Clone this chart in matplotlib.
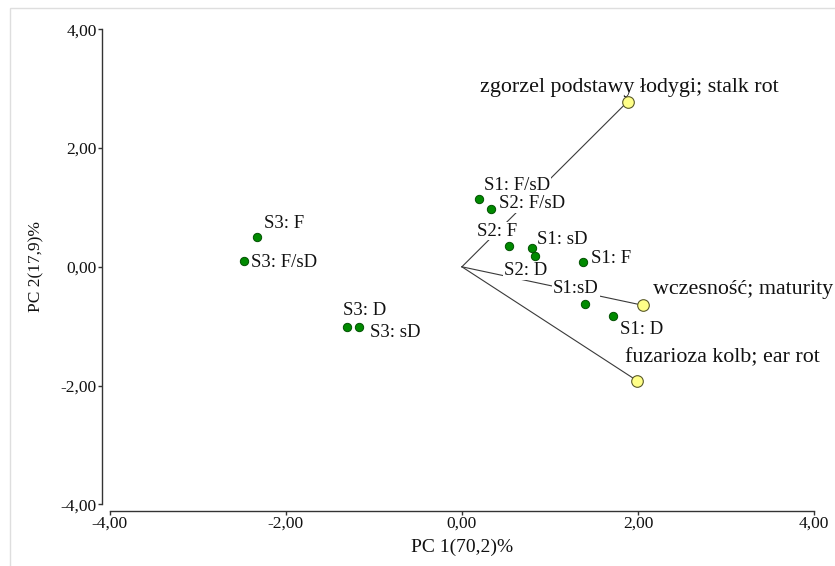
import matplotlib
matplotlib.use("Agg")
import matplotlib.pyplot as plt
from matplotlib.patches import Rectangle
from matplotlib.ticker import FuncFormatter

# ---- data ----
obj_labels = ["S1: F/sD", "S2: F/sD", "S2: F", "S1: sD", "S2: D", "S1: F",
              "S1:sD", "S1: D", "S3: F", "S3: F/sD", "S3: D", "S3: sD"]
obj_pc1 = [0.19, 0.33, 0.53, 0.80, 0.83, 1.37, 1.40, 1.72, -2.33, -2.47, -1.30, -1.17]
obj_pc2 = [1.14, 0.98, 0.35, 0.32, 0.19, 0.08, -0.62, -0.83, 0.50, 0.09, -1.01, -1.02]

var_labels = ["zgorzel podstawy łodygi; stalk rot", "wczesność; maturity", "fuzarioza kolb; ear rot"]
var_pc1 = [1.88, 2.06, 1.99]
var_pc2 = [2.78, -0.65, -1.92]

x_ticks = [-4, -2, 0, 2, 4]
y_ticks = [-4, -2, 0, 2, 4]
x_label = "PC 1(70,2)%"
y_label = "PC 2(17,9)%"

# ---- style (label offsets in pixels) ----
obj_offsets = [(5, 14), (8, 5), (-32, 15), (5, 8), (-31, -15), (8, 4),
               (-32, 15), (7, -13), (7, 14), (7, -1), (-4, 16), (11, -5)]
var_offsets = [(-148, 14), (10, 16), (-12, 23)]

plt.rcParams['font.family'] = ['Liberation Serif', 'DejaVu Serif']

fig = plt.figure(figsize=(8.35, 5.66), dpi=100)
ax = fig.add_axes([109.5 / 835, (566 - 504.3) / 566, (814.3 - 109.5) / 835, (504.3 - 29.3) / 566])

# figure border
fig.patches.append(Rectangle((10 / 835, -0.02), 1.0, (566 - 8) / 566 + 0.02,
                             transform=fig.transFigure, fill=False,
                             edgecolor='#dedede', lw=1.0, zorder=0))

# vectors
for vx, vy in zip(var_pc1, var_pc2):
    ax.plot([0, vx], [0, vy], color='#3a3a3a', lw=0.8, zorder=1)

ax.scatter(var_pc1, var_pc2, s=70, facecolor='#ffff88', edgecolor='#5a5a2a',
           linewidths=0.8, zorder=4)
ax.scatter(obj_pc1, obj_pc2, s=36, facecolor='#008a00', edgecolor='#005000',
           linewidths=0.7, zorder=4)

bbox = dict(facecolor='white', edgecolor='none', pad=0.5)
for lab, x, y, off in zip(obj_labels, obj_pc1, obj_pc2, obj_offsets):
    ax.annotate(lab, (x, y), xytext=off, textcoords='offset pixels',
                ha='left', va='center', fontsize=13.5, color='#111111',
                bbox=bbox, zorder=3)
for lab, x, y, off in zip(var_labels, var_pc1, var_pc2, var_offsets):
    ax.annotate(lab, (x, y), xytext=off, textcoords='offset pixels',
                ha='left', va='center', fontsize=15.8, color='#111111',
                bbox=bbox, zorder=3)

ax.set_xlim(-4, 4)
ax.set_ylim(-4, 4)
ax.set_xticks(x_ticks)
ax.set_yticks(y_ticks)
fmt = FuncFormatter(lambda v, p: f"{v:.2f}".replace('.', ','))
ax.xaxis.set_major_formatter(fmt)
ax.yaxis.set_major_formatter(fmt)

for s in ['top', 'right']:
    ax.spines[s].set_visible(False)
ax.spines['left'].set_position(('outward', 5.2))
ax.spines['bottom'].set_position(('outward', 4.5))
ax.spines['left'].set_bounds(-4, 4)
ax.spines['bottom'].set_bounds(-4, 4)
for s in ['left', 'bottom']:
    ax.spines[s].set_color('#333333')
    ax.spines[s].set_linewidth(1.0)
ax.tick_params(direction='out', length=3, width=1, color='#333333',
               labelsize=12.5, labelcolor='#111111', pad=1)

ax.set_xlabel(x_label, fontsize=14, color='#111111', labelpad=5)
ax.set_ylabel(y_label, fontsize=12.5, color='#111111', labelpad=12)

fig.savefig("out.png", dpi=100)
